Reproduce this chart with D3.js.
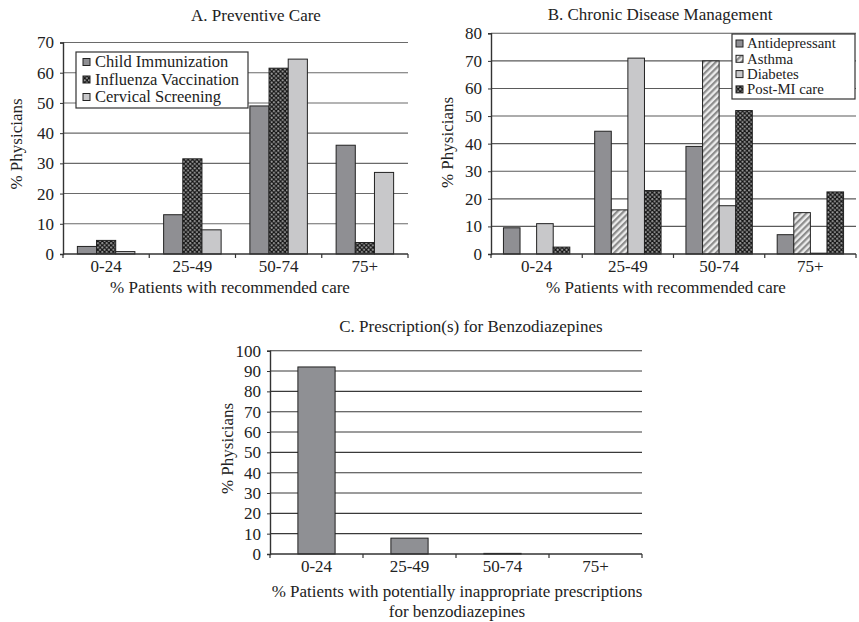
<!DOCTYPE html>
<html>
<head>
<meta charset="utf-8">
<script src="https://cdn.jsdelivr.net/npm/d3@7/dist/d3.min.js"></script>
<style>
  html, body { margin: 0; padding: 0; background: #fff; }
  svg text { font-family: "Liberation Serif", "Times New Roman", serif; fill: #222; }
</style>
</head>
<body>
<svg id="chart" width="859" height="622"></svg>
<script>
// ---------- DATA ----------
const categories = ["0-24", "25-49", "50-74", "75+"];

// Panel A: Preventive Care
const seriesA = ["Child Immunization", "Influenza Vaccination", "Cervical Screening"];
const childImmunization   = [2.5, 13, 49, 36];
const influenzaVaccination = [4.5, 31.5, 61.5, 3.8];
const cervicalScreening   = [0.8, 8, 64.5, 27];
const ticksA = [0, 10, 20, 30, 40, 50, 60, 70];

// Panel B: Chronic Disease Management
const seriesB = ["Antidepressant", "Asthma", "Diabetes", "Post-MI care"];
const antidepressant = [9.5, 44.5, 39, 7];
const asthma         = [0, 16, 70, 15];
const diabetes       = [11, 71, 17.5, 0.3];
const postMI         = [2.5, 23, 52, 22.5];
const ticksB = [0, 10, 20, 30, 40, 50, 60, 70, 80];

// Panel C: Prescription(s) for Benzodiazepines
const seriesC = ["Benzodiazepines"];
const benzodiazepines = [92, 7.8, 0.3, 0];
const ticksC = [0, 10, 20, 30, 40, 50, 60, 70, 80, 90, 100];

// ---------- DRAWING ----------
const svg = d3.select("#chart");
const defs = svg.append("defs");

// checker pattern (dark with light dots)
const chk = defs.append("pattern").attr("id", "checker")
  .attr("patternUnits", "userSpaceOnUse").attr("width", 4.4).attr("height", 4.4);
chk.append("rect").attr("width", 4.4).attr("height", 4.4).attr("fill", "#151515");
chk.append("circle").attr("cx", 1.1).attr("cy", 1.1).attr("r", 1.05).attr("fill", "#9a9a9a");
chk.append("circle").attr("cx", 3.3).attr("cy", 3.3).attr("r", 1.05).attr("fill", "#9a9a9a");

// diagonal stripes
const str = defs.append("pattern").attr("id", "stripes")
  .attr("patternUnits", "userSpaceOnUse").attr("width", 4.5).attr("height", 4.5)
  .attr("patternTransform", "rotate(45)");
str.append("rect").attr("width", 4.5).attr("height", 4.5).attr("fill", "#ececec");
str.append("rect").attr("width", 2.2).attr("height", 4.5).attr("fill", "#8c8c8c");

const FS = 17;

function panel(cfg) {
  const g = svg.append("g");
  const x0 = d3.scaleBand().domain(categories).range([cfg.left, cfg.right]).padding(0);
  const n = cfg.series.length;
  const bw = x0.bandwidth() / (n + 1.5);
  const x1 = d3.scaleBand().domain(cfg.series)
    .range([0.75 * bw, x0.bandwidth() - 0.75 * bw]).padding(0);
  const y = d3.scaleLinear().domain([0, cfg.max]).range([cfg.bottom, cfg.top]);

  // gridlines
  g.append("g").selectAll("line").data(cfg.ticks.filter(t => t > 0)).join("line")
    .attr("x1", cfg.left).attr("x2", cfg.right)
    .attr("y1", d => y(d)).attr("y2", d => y(d))
    .attr("stroke", cfg.gridColor).attr("stroke-width", 1.1);

  // bars
  cfg.series.forEach((s, si) => {
    g.append("g").selectAll("rect").data(cfg.values[si]).join("rect")
      .attr("x", (d, i) => x0(categories[i]) + x1(s))
      .attr("y", d => y(d))
      .attr("width", x1.bandwidth())
      .attr("height", d => cfg.bottom - y(d))
      .attr("fill", cfg.fills[si])
      .attr("stroke", d => d > 0 ? "#222" : "none")
      .attr("stroke-width", 1);
  });

  // y axis
  const ya = d3.axisLeft(y).tickValues(cfg.ticks).tickSize(3).tickPadding(6).tickFormat(d3.format("d"));
  const yg = g.append("g").attr("transform", `translate(${cfg.left},0)`).call(ya);
  yg.select(".domain").attr("stroke", "#333").attr("stroke-width", 1.4);
  yg.selectAll(".tick line").attr("stroke", "#333");
  yg.selectAll(".tick text").style("font-size", FS + "px").style("font-family", "Liberation Serif").attr("fill", "#222");

  // x axis line + boundary ticks
  g.append("line").attr("x1", cfg.left).attr("x2", cfg.right)
    .attr("y1", cfg.bottom).attr("y2", cfg.bottom)
    .attr("stroke", "#333").attr("stroke-width", 1.4);
  const bounds = categories.map(c => x0(c)).concat([cfg.right]);
  g.append("g").selectAll("line").data(bounds).join("line")
    .attr("x1", d => d).attr("x2", d => d)
    .attr("y1", cfg.bottom).attr("y2", cfg.bottom + 4)
    .attr("stroke", "#333").attr("stroke-width", 1.2);
  g.append("g").selectAll("text").data(categories).join("text")
    .attr("x", d => x0(d) + x0.bandwidth() / 2)
    .attr("y", cfg.bottom + 18)
    .attr("text-anchor", "middle").style("font-size", FS + "px")
    .text(d => d);

  // titles
  g.append("text").attr("x", cfg.titleX).attr("y", cfg.titleY)
    .attr("text-anchor", "middle").style("font-size", FS + "px").text(cfg.title);
  cfg.xTitle.forEach((t, i) => {
    g.append("text").attr("x", cfg.xTitleX).attr("y", cfg.xTitleY + i * 20)
      .attr("text-anchor", "middle").style("font-size", FS + "px").text(t);
  });
  g.append("text")
    .attr("transform", `translate(${cfg.yTitleX},${cfg.yTitleY}) rotate(-90)`)
    .attr("text-anchor", "middle").style("font-size", FS + "px").text("% Physicians");

  // legend
  if (cfg.legend) {
    const L = cfg.legend;
    const lg = g.append("g");
    lg.append("rect").attr("x", L.x).attr("y", L.y).attr("width", L.w).attr("height", L.h)
      .attr("fill", "#fff").attr("stroke", "#333").attr("stroke-width", 1.2);
    cfg.series.forEach((s, si) => {
      const cy = L.y + L.first + si * L.step;
      lg.append("rect").attr("x", L.x + L.sx).attr("y", cy - 3.5)
        .attr("width", 7).attr("height", 7)
        .attr("fill", cfg.fills[si]).attr("stroke", "#222").attr("stroke-width", 1);
      lg.append("text").attr("x", L.x + L.tx).attr("y", cy + L.fs * 0.32)
        .style("font-size", L.fs + "px").text(s);
    });
  }
}

panel({
  series: seriesA,
  values: [childImmunization, influenzaVaccination, cervicalScreening],
  fills: ["#8f8f93", "url(#checker)", "#c8c8ca"],
  ticks: ticksA, max: 70,
  left: 63, right: 408, top: 42.5, bottom: 254,
  gridColor: "#6a6a6a",
  title: "A. Preventive Care", titleX: 256, titleY: 21,
  xTitle: ["% Patients with recommended care"], xTitleX: 230, xTitleY: 293,
  yTitleX: 22, yTitleY: 144,
  legend: { x: 76, y: 52, w: 172, h: 56, first: 10, step: 17.5, sx: 7, tx: 19, fs: 16.5 }
});

panel({
  series: seriesB,
  values: [antidepressant, asthma, diabetes, postMI],
  fills: ["#8f8f93", "url(#stripes)", "#c8c8ca", "url(#checker)"],
  ticks: ticksB, max: 80,
  left: 491, right: 856, top: 33.3, bottom: 254,
  gridColor: "#5a5a5a",
  title: "B. Chronic Disease Management", titleX: 660, titleY: 20,
  xTitle: ["% Patients with recommended care"], xTitleX: 666, xTitleY: 293,
  yTitleX: 453, yTitleY: 142.5,
  legend: { x: 732, y: 34, w: 123, h: 65, first: 9.5, step: 15.3, sx: 4, tx: 15, fs: 14.8 }
});

panel({
  series: seriesC,
  values: [benzodiazepines],
  fills: ["#8f9094"],
  ticks: ticksC, max: 100,
  left: 270, right: 642, top: 350.7, bottom: 554,
  gridColor: "#3a3a3a",
  title: "C. Prescription(s) for Benzodiazepines", titleX: 471, titleY: 332,
  xTitle: ["% Patients with potentially inappropriate prescriptions", "for benzodiazepines"],
  xTitleX: 457, xTitleY: 597,
  yTitleX: 233, yTitleY: 448.5,
  legend: null
});
</script>
</body>
</html>
